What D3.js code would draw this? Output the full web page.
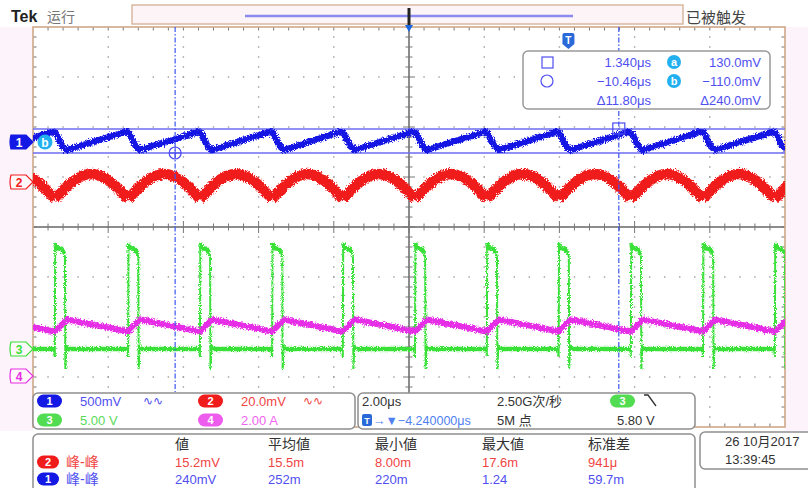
<!DOCTYPE html>
<html><head><meta charset="utf-8">
<script src="https://cdn.jsdelivr.net/npm/d3@7"></script>
<style>
body{margin:0;background:#fff}
svg{display:block}
text{font-family:"Liberation Sans","Noto Sans CJK SC",sans-serif}
</style></head>
<body><svg id="c" width="808" height="488"></svg>
<script>
// ---------------- data ----------------
const timeDomain = [-14.24, 5.76];            // µs relative to trigger (center = -4.24 µs, 2 µs/div)
const pulseStarts = [-15.58, -13.66, -11.71, -9.80, -7.88, -6.00, -4.08, -2.17, -0.26, 1.66, 3.58, 5.49];
// CH1 (mV) key points relative to each pulse start
const ch1Offsets = [-0.08, 0.02, 0.20, 0.32];
const ch1Values  = [100, 90, -40, -80];
// CH2 (mV) one arch between two successive pulse starts (fraction of period)
const ch2ArchFrac = [0, 0.1, 0.25, 0.5, 0.75, 0.9, 1];
const ch2ArchMv   = [-6.8, -3.7, 0.3, 3.2, 0.3, -3.7, -6.8];
// CH3 (V) pulse key points relative to pulse start
const ch3Offsets = [-0.02, 0, 0.01, 0.04, 0.18, 0.24, 0.27, 0.28, 0.31, 0.36];
const ch3Values  = [0, -0.8, 10.6, 10.1, 10.0, 9.6, 9.2, -2.0, 0.4, 0];
// CH4 (A) key points relative to pulse start
const ch4Offsets = [0, 0.32];
const ch4Values  = [1.78, 2.26];
// cursors
const cursorTimes = [1.34, -10.46];           // µs
const cursorLevels = [130, -110];             // mV on CH1
// channel settings: ground offset (div) and units/div
const chOffsets = [1.70, 0.90, -2.44, -2.98];
const chScales  = [500, 20, 5, 2];
const chColors  = ["#1418e4", "#f01c1c", "#38e038", "#e62ee6"];
const chText    = ["#4f4ff0", "#f04444", "#5ada5a", "#f064f0"];
// readouts
const chLabels  = ["500mV", "20.0mV", "5.00 V", "2.00 A"];
const measHeaders = ["値", "平均値", "最小値", "最大値", "标准差"];
const measCh2 = ["15.2mV", "15.5m", "8.00m", "17.6m", "941μ"];
const measCh1 = ["240mV", "252m", "220m", "1.24", "59.7m"];
const cursorReadTime = ["1.340μs", "−10.46μs", "Δ11.80μs"];
const cursorReadVolt = ["130.0mV", "−110.0mV", "Δ240.0mV"];

// ---------------- setup ----------------
const svg = d3.select("#c");
const G = {x0: 33, x1: 785, y0: 27, y1: 427};
const x = d3.scaleLinear().domain(timeDomain).range([G.x0, G.x1]);
const yDiv = d3.scaleLinear().domain([4, -4]).range([G.y0, G.y1]);
const chY = i => v => yDiv(chOffsets[i] + v / chScales[i]);
const divW = (G.x1 - G.x0) / 10, divH = (G.y1 - G.y0) / 8;

const defs = svg.append("defs");
defs.append("clipPath").attr("id", "gclip").append("rect")
  .attr("x", G.x0).attr("y", G.y0).attr("width", G.x1 - G.x0).attr("height", G.y1 - G.y0);
const f = defs.append("filter").attr("id", "noise").attr("filterUnits", "userSpaceOnUse")
  .attr("x", 0).attr("y", 0).attr("width", 808).attr("height", 488);
f.append("feTurbulence").attr("type", "fractalNoise").attr("baseFrequency", "0.9 0.7")
  .attr("numOctaves", 2).attr("seed", 4).attr("result", "t");
f.append("feDisplacementMap").attr("in", "SourceGraphic").attr("in2", "t")
  .attr("scale", 6).attr("xChannelSelector", "R").attr("yChannelSelector", "G");
const f2 = defs.append("filter").attr("id", "noise2").attr("filterUnits", "userSpaceOnUse")
  .attr("x", 0).attr("y", 0).attr("width", 808).attr("height", 488);
f2.append("feTurbulence").attr("type", "fractalNoise").attr("baseFrequency", "1.2 0.9")
  .attr("numOctaves", 2).attr("seed", 9).attr("result", "t");
f2.append("feDisplacementMap").attr("in", "SourceGraphic").attr("in2", "t")
  .attr("scale", 4).attr("xChannelSelector", "R").attr("yChannelSelector", "G");

// ---------------- background ----------------
svg.append("rect").attr("width", 808).attr("height", 488).attr("fill", "#fff");
svg.append("rect").attr("x", 0).attr("y", G.y0).attr("width", G.x0).attr("height", 404).attr("fill", "#fcf3fb");
svg.append("rect").attr("x", G.x1).attr("y", G.y0).attr("width", 808 - G.x1).attr("height", 404).attr("fill", "#fcf3fb");
svg.append("rect").attr("x", G.x0).attr("y", G.y0).attr("width", G.x1 - G.x0).attr("height", G.y1 - G.y0).attr("fill", "#fff");

// top bar
svg.append("text").attr("x", 11).attr("y", 22).attr("font-size", 16).attr("font-weight", "bold")
  .attr("fill", "#222").attr("font-family", "Liberation Serif").text("Tek");
svg.append("text").attr("x", 47).attr("y", 22).attr("font-size", 14).attr("fill", "#777").text("运行");
svg.append("rect").attr("x", 132).attr("y", 5).attr("width", 551).attr("height", 19)
  .attr("fill", "#fdf4f7").attr("stroke", "#d8b8a0").attr("stroke-width", 1.5);
svg.append("line").attr("x1", 245).attr("x2", 573).attr("y1", 16).attr("y2", 16)
  .attr("stroke", "#8a8af0").attr("stroke-width", 2.5);
svg.append("text").attr("x", 686).attr("y", 23).attr("font-size", 15).attr("fill", "#444").text("已被触发");

// ---------------- graticule ----------------
const grid = svg.append("g");
const dots = [];
for (let k = 1; k < 10; k++) {
  if (k === 5) continue;
  const gx = G.x0 + k * divW;
  for (let yy = G.y0 + divH / 5; yy < G.y1; yy += divH / 5) dots.push([gx, yy]);
}
for (let j = 1; j < 8; j++) {
  if (j === 4) continue;
  const gy = G.y0 + j * divH;
  for (let xx = G.x0 + divW / 5; xx < G.x1 - 1; xx += divW / 5) dots.push([xx, gy]);
}
grid.selectAll("rect.dot").data(dots).join("rect").attr("class", "dot")
  .attr("x", d => d[0] - 0.7).attr("y", d => d[1] - 0.7).attr("width", 1.4).attr("height", 1.4)
  .attr("fill", "#9a9a9a");
// center lines
const cx = G.x0 + 5 * divW, cy = G.y0 + 4 * divH;
grid.append("line").attr("x1", G.x0).attr("x2", G.x1).attr("y1", cy).attr("y2", cy).attr("stroke", "#666").attr("stroke-width", 1.5);
grid.append("line").attr("x1", cx).attr("x2", cx).attr("y1", G.y0).attr("y2", G.y1).attr("stroke", "#666").attr("stroke-width", 1.5);
const tk = [];
for (let i = 1; i < 50; i++) { const xx = G.x0 + i * divW / 5; const L = i % 5 === 0 ? 6 : 3.5;
  tk.push([xx, cy - L, xx, cy + L]); tk.push([xx, G.y0, xx, G.y0 + 3.5]); tk.push([xx, G.y1 - 3.5, xx, G.y1]); }
for (let i = 1; i < 40; i++) { const yy = G.y0 + i * divH / 5; const L = i % 5 === 0 ? 6 : 3.5;
  tk.push([cx - L, yy, cx + L, yy]); tk.push([G.x0, yy, G.x0 + 3.5, yy]); tk.push([G.x1 - 3.5, yy, G.x1, yy]); }
grid.selectAll("line.tk").data(tk).join("line").attr("class", "tk")
  .attr("x1", d => d[0]).attr("y1", d => d[1]).attr("x2", d => d[2]).attr("y2", d => d[3])
  .attr("stroke", "#777").attr("stroke-width", 1);
grid.append("rect").attr("x", G.x0).attr("y", G.y0).attr("width", G.x1 - G.x0).attr("height", G.y1 - G.y0)
  .attr("fill", "none").attr("stroke", "#cfa888").attr("stroke-width", 1.6);

// horizontal cursors (behind traces)
svg.selectAll("line.hc").data(cursorLevels).join("line").attr("class", "hc")
  .attr("x1", G.x0).attr("x2", G.x1).attr("y1", d => chY(0)(d)).attr("y2", d => chY(0)(d))
  .attr("stroke", "#6c6cf2").attr("stroke-width", 1.5);

// ---------------- traces ----------------
const traces = svg.append("g").attr("clip-path", "url(#gclip)");
const ch1Pts = [], ch3Pts = [], ch4Pts = [], ch3Base = [], ch3Top = [];
pulseStarts.forEach((t0, i) => {
  ch1Offsets.forEach((o, k) => ch1Pts.push([t0 + o, ch1Values[k]]));
  ch3Offsets.forEach((o, k) => ch3Pts.push([t0 + o, ch3Values[k]]));
  ch4Offsets.forEach((o, k) => ch4Pts.push([t0 + o, ch4Values[k]]));
  ch3Top.push([[t0 + ch3Offsets[2], ch3Values[2]], [t0 + ch3Offsets[3], ch3Values[3]], [t0 + ch3Offsets[4], ch3Values[4]], [t0 + ch3Offsets[5], ch3Values[5]]]);
  if (i < pulseStarts.length - 1) ch3Base.push([[t0 + ch3Offsets[9], 0], [pulseStarts[i + 1] + ch3Offsets[0], 0]]);
  else ch3Base.push([[t0 + ch3Offsets[9], 0], [t0 + 3, 0]]);
});
const ch2Arches = [];
for (let i = 0; i < pulseStarts.length; i++) {
  const a = pulseStarts[i], b = i < pulseStarts.length - 1 ? pulseStarts[i + 1] : a + 1.915;
  ch2Arches.push(ch2ArchFrac.map((fr, k) => [a + fr * (b - a), ch2ArchMv[k]]));
}
const line = (i, curve) => d3.line().x(d => x(d[0])).y(d => chY(i)(d[1])).curve(curve || d3.curveLinear);

// CH3 green
const g3 = traces.append("g").attr("filter", "url(#noise2)");
g3.append("path").attr("d", line(2)(ch3Pts)).attr("fill", "none").attr("stroke", chColors[2]).attr("stroke-width", 2);
g3.selectAll("path.b").data(ch3Base.concat(ch3Top)).join("path").attr("class", "b")
  .attr("d", d => line(2)(d)).attr("fill", "none").attr("stroke", chColors[2]).attr("stroke-width", 4.5);
// CH4 magenta
traces.append("g").attr("filter", "url(#noise)").append("path").attr("d", line(3)(ch4Pts))
  .attr("fill", "none").attr("stroke", chColors[3]).attr("stroke-width", 6).attr("stroke-linejoin", "round");
// CH2 red
traces.append("g").attr("filter", "url(#noise)").selectAll("path").data(ch2Arches).join("path")
  .attr("d", d => line(1, d3.curveNatural)(d)).attr("fill", "none").attr("stroke", chColors[1])
  .attr("stroke-width", 10.5).attr("stroke-linejoin", "round");
// CH1 blue
traces.append("g").attr("filter", "url(#noise)").append("path").attr("d", line(0)(ch1Pts))
  .attr("fill", "none").attr("stroke", chColors[0]).attr("stroke-width", 6.5).attr("stroke-linejoin", "round");

// vertical cursors
svg.selectAll("line.vc").data(cursorTimes).join("line").attr("class", "vc")
  .attr("x1", d => x(d)).attr("x2", d => x(d)).attr("y1", G.y0).attr("y2", 392)
  .attr("stroke", "#3a55f0").attr("stroke-width", 1.2).attr("stroke-dasharray", "5,2,1.5,2");
// cursor intersection markers
svg.append("rect").attr("x", x(cursorTimes[0]) - 6).attr("y", chY(0)(cursorLevels[0]) - 6).attr("width", 12).attr("height", 11)
  .attr("fill", "none").attr("stroke", "#4a4af0").attr("stroke-width", 1.2);
const bx = x(cursorTimes[1]), by = chY(0)(cursorLevels[1]);
svg.append("circle").attr("cx", bx).attr("cy", by).attr("r", 6).attr("fill", "none").attr("stroke", "#4a4af0").attr("stroke-width", 1.2);
svg.append("line").attr("x1", bx - 6).attr("x2", bx + 6).attr("y1", by).attr("y2", by).attr("stroke", "#4a4af0");
svg.append("line").attr("x1", bx).attr("x2", bx).attr("y1", by - 6).attr("y2", by + 6).attr("stroke", "#4a4af0");

// expansion marker at top centre
svg.append("line").attr("x1", cx).attr("x2", cx).attr("y1", 8).attr("y2", 26).attr("stroke", "#222").attr("stroke-width", 3);
svg.append("path").attr("d", `M${cx - 4},25 L${cx + 4},25 L${cx},32 Z`).attr("fill", "#1a66e0");
// trigger position marker
const tx = x(0);
svg.append("path").attr("d", `M${tx - 6},35 Q${tx - 6},33 ${tx - 4},33 L${tx + 4},33 Q${tx + 6},33 ${tx + 6},35 L${tx + 6},44 L${tx},49 L${tx - 6},44 Z`).attr("fill", "#2a6ad8");
svg.append("text").attr("x", tx).attr("y", 44).attr("text-anchor", "middle").attr("font-size", 10).attr("font-weight", "bold").attr("fill", "#fff").text("T");

// channel tags on the left
const tagY = chOffsets.map((o, i) => chY(i)(0));
chOffsets.forEach((o, i) => {
  const yy = tagY[i];
  const filled = i === 0;
  svg.append("path").attr("d", `M11,${yy - 7} L26,${yy - 7} L33,${yy} L26,${yy + 7} L11,${yy + 7} Q9,${yy} 11,${yy - 7} Z`)
    .attr("fill", filled ? chColors[0] : "#fff8fb").attr("stroke", filled ? chColors[0] : chColors[i]).attr("stroke-width", 1.2);
  svg.append("text").attr("x", 19).attr("y", yy + 4.5).attr("text-anchor", "middle").attr("font-size", 12).attr("font-weight", "bold")
    .attr("fill", filled ? "#fff" : chColors[i]).text(i + 1);
});
// cursor b label on ch1
svg.append("circle").attr("cx", 45).attr("cy", tagY[0]).attr("r", 7.5).attr("fill", "#22b0f0");
svg.append("text").attr("x", 45).attr("y", tagY[0] + 4.5).attr("text-anchor", "middle").attr("font-size", 12).attr("font-weight", "bold").attr("fill", "#fff").text("b");

// ---------------- cursor readout box ----------------
svg.append("rect").attr("x", 523).attr("y", 51).attr("width", 247).attr("height", 58).attr("rx", 5)
  .attr("fill", "#fff").attr("stroke", "#999").attr("stroke-width", 1.5);
svg.append("rect").attr("x", 542).attr("y", 57).attr("width", 11).attr("height", 11).attr("fill", "none").attr("stroke", "#4f4ff0").attr("stroke-width", 1.2);
svg.append("circle").attr("cx", 547).attr("cy", 81).attr("r", 6).attr("fill", "none").attr("stroke", "#4f4ff0").attr("stroke-width", 1.2);
const rowY = [67, 86, 105];
cursorReadTime.forEach((t, i) => svg.append("text").attr("x", 651).attr("y", rowY[i]).attr("text-anchor", "end").attr("font-size", 13).attr("fill", "#4f4ff0").text(t));
cursorReadVolt.forEach((t, i) => svg.append("text").attr("x", 761).attr("y", rowY[i]).attr("text-anchor", "end").attr("font-size", 13).attr("fill", "#4f4ff0").text(t));
["a", "b"].forEach((l, i) => {
  svg.append("circle").attr("cx", 674).attr("cy", rowY[i] - 5).attr("r", 7).attr("fill", "#22b0f0");
  svg.append("text").attr("x", 674).attr("y", rowY[i] - 1).attr("text-anchor", "middle").attr("font-size", 11).attr("font-weight", "bold").attr("fill", "#fff").text(l);
});

// ---------------- bottom readouts ----------------
function box(x0, y0, w, h) {
  svg.append("rect").attr("x", x0).attr("y", y0).attr("width", w).attr("height", h).attr("rx", 5)
    .attr("fill", "#fff").attr("stroke", "#8f8f8f").attr("stroke-width", 1.5);
}
function pill(px, py, w, color, label) {
  svg.append("rect").attr("x", px).attr("y", py - 6.5).attr("width", w).attr("height", 13).attr("rx", 6.5).attr("fill", color);
  svg.append("text").attr("x", px + w / 2).attr("y", py + 4).attr("text-anchor", "middle").attr("font-size", 11).attr("font-weight", "bold").attr("fill", "#fff").text(label);
}
function txt(tx_, ty, s, color, size, anchor) {
  svg.append("text").attr("x", tx_).attr("y", ty).attr("font-size", size || 13).attr("fill", color).attr("text-anchor", anchor || "start").text(s);
}
box(33, 393, 322, 36);
box(358, 393, 337, 36);
box(33, 434, 662, 70);
box(700, 432, 120, 37);

const r1 = 401, r2 = 420;
const pillCols = [chColors[0], chColors[1], "#52dc52", "#ee5cee"];
[[37, r1], [198, r1], [37, r2], [198, r2]].forEach((p, i) => {
  pill(p[0], p[1], 25, pillCols[i], i + 1);
  txt(p[0] + 43, p[1] + 5, chLabels[i], chText[i]);
});
txt(143, r1 + 4, "∿∿", chText[0], 12);
txt(303, r1 + 4, "∿∿", chText[1], 12);

txt(362, r1 + 5, "2.00μs", "#333");
txt(497, r1 + 5, "2.50G次/秒", "#333");
pill(610, r1, 25, "#52dc52", 3);
svg.append("path").attr("d", `M644,${r1 - 6} h4 l8,11`).attr("fill", "none").attr("stroke", "#333").attr("stroke-width", 1.3);
svg.append("rect").attr("x", 362).attr("y", r2 - 6).attr("width", 10).attr("height", 12).attr("rx", 2).attr("fill", "#2a6ad8");
svg.append("text").attr("x", 367).attr("y", r2 + 4).attr("text-anchor", "middle").attr("font-size", 9).attr("font-weight", "bold").attr("fill", "#fff").text("T");
txt(373, r2 + 5, "→▼−4.240000μs", "#4f7ff0", 12.5);
txt(497, r2 + 5, "5M 点", "#333");
txt(617, r2 + 5, "5.80 V", "#333");

const colX = [175, 268, 375, 482, 588];
measHeaders.forEach((h, i) => txt(colX[i], 449, h, "#333", 14));
pill(37, 462, 22, "#f01c1c", 2);
pill(37, 479, 22, chColors[0], 1);
txt(66, 467, "峰-峰", "#f04444", 14);
txt(66, 484, "峰-峰", "#4f4ff0", 14);
measCh2.forEach((v, i) => txt(colX[i], 467, v, "#f04444"));
measCh1.forEach((v, i) => txt(colX[i], 484, v, "#4f4ff0"));

txt(725, 446, "26 10月2017", "#333");
txt(725, 464, "13:39:45", "#333");
</script></body></html>
